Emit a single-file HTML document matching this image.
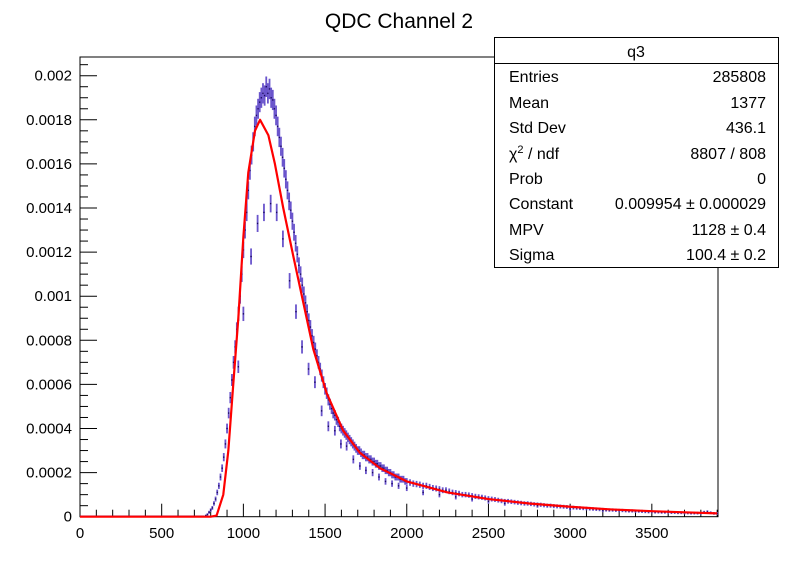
<!DOCTYPE html>
<html><head><meta charset="utf-8"><style>
body{margin:0;background:#fff;}
svg{display:block;font-family:"Liberation Sans",Arial,sans-serif;}
</style></head><body>
<svg id="chart" width="798" height="575" viewBox="0 0 798 575">
<rect width="798" height="575" fill="#fff"/>
<text x="399" y="28" font-size="21" text-anchor="middle">QDC Channel 2</text>
<g id="axes"></g>
<g id="marks"></g>
<g id="statbox">
<rect x="494.5" y="37.5" width="284" height="230" fill="#fff" stroke="#000" stroke-width="1"/>
<line x1="494.5" y1="63.5" x2="778.5" y2="63.5" stroke="#000"/>
<text x="636" y="57" font-size="16" text-anchor="middle">q3</text>
<g font-size="16">
<text x="509" y="82">Entries</text><text x="766" y="82" text-anchor="end">285808</text>
<text x="509" y="108">Mean</text><text x="766" y="108" text-anchor="end">1377</text>
<text x="509" y="133">Std Dev</text><text x="766" y="133" text-anchor="end">436.1</text>
<text x="509" y="159">χ<tspan dy="-6" font-size="11">2</tspan><tspan dy="6"> / ndf</tspan></text><text x="766" y="159" text-anchor="end">8807 / 808</text>
<text x="509" y="184">Prob</text><text x="766" y="184" text-anchor="end">0</text>
<text x="509" y="209">Constant</text><text x="766" y="209" text-anchor="end">0.009954 ± 0.000029</text>
<text x="509" y="235">MPV</text><text x="766" y="235" text-anchor="end">1128 ± 0.4</text>
<text x="509" y="260">Sigma</text><text x="766" y="260" text-anchor="end">100.4 ± 0.2</text>
</g>
</g>
</svg>
<script>
const binX = [760,770,780,790,800,810,820,830,840,850,860,870,880,890,900,910,920,930,940,950,960,970,980,990,1000,1010,1020,1030,1040,1050,1060,1070,1080,1090,1100,1110,1120,1130,1140,1150,1160,1170,1180,1190,1200,1210,1220,1230,1240,1250,1260,1270,1280,1290,1300,1310,1320,1330,1340,1350,1360,1370,1380,1390,1400,1410,1420,1430,1440,1450,1460,1470,1480,1490,1500,1510,1520,1530,1540,1550,1560,1570,1580,1590,1600,1610,1620,1630,1640,1650,1660,1670,1680,1690,1700,1710,1720,1730,1740,1750,1760,1770,1780,1790,1800,1810,1820,1830,1840,1850,1860,1870,1880,1890,1900,1910,1920,1930,1940,1950,1960,1970,1980,1990,2000,
2020,2040,2060,2080,2100,2120,2140,2160,2180,2200,2220,2240,2260,2280,2300,2320,2340,2360,2380,2400,2420,2440,2460,2480,2500,2520,2540,2560,2580,2600,2620,2640,2660,2680,2700,2720,2740,2760,2780,2800,2820,2840,2860,2880,2900,2920,2940,2960,2980,3000,3020,3040,3060,3080,3100,3120,3140,3160,3180,3200,3220,3240,3260,3280,3300,3320,3340,3360,3380,3400,3420,3440,3460,3480,3500,3520,3540,3560,3580,3600,3620,3640,3660,3680,3700,3720,3740,3760,3780,3800,3820,3840,3860,3880,3900];
const binY = [0,0.000005,0.00001,0.00002,0.00003,0.00004,0.00006,0.00008,0.00011,0.00014,0.00018,0.00022,0.00027,0.00033,0.0004,0.00047,0.00054,0.00062,0.0007,0.00077,0.00085,0.00092,0.001,0.0011,0.00121,0.0013,0.0014,0.00148,0.00157,0.00164,0.0017,0.00177,0.00182,0.00185,0.00188,0.0019,0.00192,0.00191,0.00195,0.00192,0.00194,0.0019,0.00189,0.00185,0.00182,0.00177,0.00172,0.00168,0.00163,0.00158,0.00153,0.00148,0.00143,0.00139,0.00134,0.00129,0.00124,0.00119,0.00114,0.0011,0.00105,0.00101,0.00097,0.00093,0.00089,0.00086,0.00082,0.00079,0.00076,0.00073,0.0007,0.00067,0.00064,0.00061,0.00058,0.00056,0.00053,0.00051,0.00049,0.00047,0.00046,0.00044,0.00043,0.00041,0.0004,0.00039,0.00038,0.00037,0.00036,0.00035,0.00034,0.00033,0.00032,0.00031,0.0003,0.0003,0.00029,0.00028,0.00028,0.00027,0.00027,0.00026,0.00026,0.00025,0.00025,0.00024,0.00024,0.00023,0.00023,0.00022,0.00022,0.00021,0.00021,0.0002,0.0002,0.00019,0.00019,0.00018,0.00018,0.00018,0.00017,0.00017,0.00017,0.00016,0.00016,
0.000155,0.00015,0.000148,0.000145,0.00014,0.00014,0.000135,0.00013,0.000128,0.000125,0.00012,0.00012,0.000115,0.00011,0.000108,0.000105,0.0001,0.0001,0.000098,0.000095,0.000092,0.00009,0.000088,0.000085,0.000082,0.00008,0.000078,0.000075,0.000072,0.00007,0.00007,0.000068,0.000066,0.000064,0.000062,0.00006,0.00006,0.000058,0.000056,0.000055,0.000054,0.000052,0.00005,0.00005,0.000048,0.000047,0.000046,0.000045,0.000044,0.000042,0.000041,0.00004,0.000039,0.000038,0.000037,0.000036,0.000035,0.000034,0.000033,0.000032,0.000031,0.00003,0.00003,0.000029,0.000028,0.000028,0.000027,0.000026,0.000026,0.000025,0.000025,0.000024,0.000023,0.000022,0.000022,0.000021,0.000021,0.00002,0.00002,0.00002,0.000019,0.000019,0.000018,0.000018,0.000017,0.000017,0.000016,0.000016,0.000016,0.000016,0.00002,0.000022,0.000018,0.000015,0.000015];
const lowX = [969,1000,1020,1047,1087,1126,1167,1204,1242,1283,1322,1359,1399,1438,1479,1520,1560,1597,1632,1673,1713,1750,1791,1830,1870,1910,1950,2000,2100,2200,2300,2400,2500,2600,2800,3000,3200];
const lowY = [0.00068,0.00092,0.00138,0.00118,0.00133,0.00138,0.00142,0.00138,0.00126,0.00107,0.00093,0.00077,0.00067,0.00061,0.00048,0.00041,0.00039,0.00033,0.00032,0.00026,0.00023,0.00021,0.0002,0.00018,0.00016,0.00015,0.00014,0.00013,0.00011,0.0001,0.00009,0.00008,0.00007,0.00006,0.00005,0.000035,0.000028];
const fitX = [0,800,836,877,908,938,969,1000,1030,1071,1102,1153,1193,1244,1306,1367,1428,1510,1611,1713,1836,2000,2250,2500,2750,3000,3250,3500,3700,3900];
const fitY = [0,0,0.000005,0.0001,0.0003,0.0006,0.0009,0.00127,0.00156,0.00175,0.0018,0.00173,0.0016,0.0014,0.00118,0.00097,0.00076,0.00056,0.00039,0.00029,0.00022,0.00016,0.00011,0.00008,0.00006,0.000045,0.000033,0.000025,0.00002,0.000015];
const xTicks = [0,500,1000,1500,2000,2500,3000,3500];
const yTicks = [0,0.0002,0.0004,0.0006,0.0008,0.001,0.0012,0.0014,0.0016,0.0018,0.002];
const yTickLabels = ["0","0.0002","0.0004","0.0006","0.0008","0.001","0.0012","0.0014","0.0016","0.0018","0.002"];

const L=80,R=718,T=57,B=516.7, XMAX=3905, YMAX=(B-T)/441*0.002;
const sx=v=>L+v/XMAX*(R-L);
const sy=v=>B-v/YMAX*(B-T);
const NS='http://www.w3.org/2000/svg';
function mk(tag,attrs,parent){const e=document.createElementNS(NS,tag);for(const k in attrs)e.setAttribute(k,attrs[k]);parent.appendChild(e);return e;}
const axes=document.getElementById('axes'), marks=document.getElementById('marks');

const frame=mk('rect',{x:L,y:T,width:R-L,height:B-T,fill:'none',stroke:'#000','stroke-width':1},axes);



for(let v=0; v<=YMAX+1e-9; v+=0.00005){
  const major=Math.abs(v/0.0002-Math.round(v/0.0002))<1e-6;
  const t=mk('line',{x1:L,x2:L+(major?17:8),y1:sy(v),y2:sy(v),stroke:'#000','stroke-width':1},axes);
  
  
}
yTicks.forEach((v,i)=>{
  const t=mk('text',{x:L-8,y:sy(v)+5,'font-size':15,'text-anchor':'end'},axes);
  t.textContent=yTickLabels[i];
  
  
});
for(let v=0; v<=XMAX; v+=100){
  const major=v%500===0;
  const t=mk('line',{x1:sx(v),x2:sx(v),y1:B,y2:B-(major?13:7),stroke:'#000','stroke-width':1},axes);
  
  
}
xTicks.forEach(v=>{
  const t=mk('text',{x:sx(v),y:538,'font-size':15,'text-anchor':'middle'},axes);
  t.textContent=String(v);
  
  
});

const z=mk('line',{x1:L,x2:sx(binX[0]),y1:B-0.5,y2:B-0.5,stroke:'#3a1080','stroke-width':1.5},marks);



function drawPoint(x,v,name){
  const err=Math.sqrt(v*1.0e-6);
  const px=sx(x);
  const e=mk('line',{x1:px,x2:px,y1:sy(v+err)-0.5,y2:sy(v-err)+0.5,stroke:'#6a55cc','stroke-width':1.8},marks);
  
  
  const d=mk('rect',{x:px-0.7,y:sy(v)-0.7,width:1.4,height:1.4,fill:'#1a0a60'},marks);
  
  
}
binX.forEach((x,i)=>drawPoint(x,binY[i],'data-point'));
lowX.forEach((x,i)=>drawPoint(x,lowY[i],'data-point-low'));

const fit=mk('polyline',{points:fitX.map((x,i)=>sx(x)+','+sy(fitY[i])).join(' '),fill:'none',stroke:'#ff0000','stroke-width':2.2,'stroke-linejoin':'round'},marks);


</script>
</body></html>
